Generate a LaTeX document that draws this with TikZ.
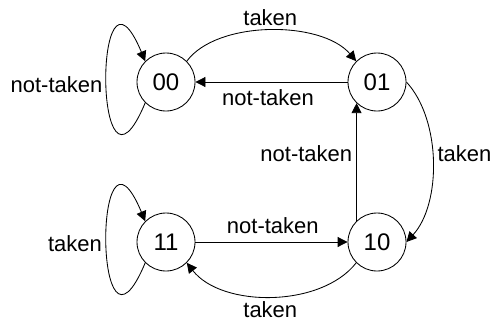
\documentclass[tikz,border=0pt]{standalone}
\usepackage{fontspec}
\setmainfont{Liberation Sans}
\usetikzlibrary{arrows.meta}
\begin{document}
\begin{tikzpicture}[x=1pt,y=-1pt, line width=0.85pt,
  state/.style={circle,draw,minimum size=58pt,inner sep=0pt,font=\fontsize{24}{28}\selectfont},
  lab/.style={anchor=base,inner sep=0pt,font=\fontsize{22}{26}\selectfont},
  arr/.style={-{Triangle[length=10pt,width=10pt]}}]
\useasboundingbox (0,0) rectangle (492,324);
\node[state] (s00) at (166,82) {00};
\node[state] (s01) at (377,82) {01};
\node[state] (s11) at (166,242) {11};
\node[state] (s10) at (377,242) {10};
% self loops
\draw[arr] (s00.225) .. controls +(-52,125) and +(-52,-125) .. (s00.135);
\draw[arr] (s11.225) .. controls +(-52,125) and +(-52,-125) .. (s11.135);
% transitions
\draw[arr] (s00.45) .. controls +(30,-41) and +(-35,-41) .. (s01.135);
\draw[arr] (s01.west) -- (s00.east);
\draw[arr] (s01.east) .. controls +(35,38) and +(35,-38) .. (s10.east);
\draw[arr] (s10.134) -- (s01.226);
\draw[arr] (s11.east) -- (s10.west);
\draw[arr] (s10.225) .. controls +(-35,45) and +(35,45) .. (s11.-45);
% labels
\node[lab] (l1) at (56.5,92.3) {not-taken};
\node[lab] (l2) at (270.3,25) {taken};
\node[lab] (l3) at (268,105) {not-taken};
\node[lab] (l4) at (306.3,161.7) {not-taken};
\node[lab] (l5) at (464.5,161) {taken};
\node[lab] (l6) at (272.8,233.3) {not-taken};
\node[lab] (l7) at (270.3,317.7) {taken};
\node[lab] (l8) at (75,251.7) {taken};
\end{tikzpicture}
\end{document}
